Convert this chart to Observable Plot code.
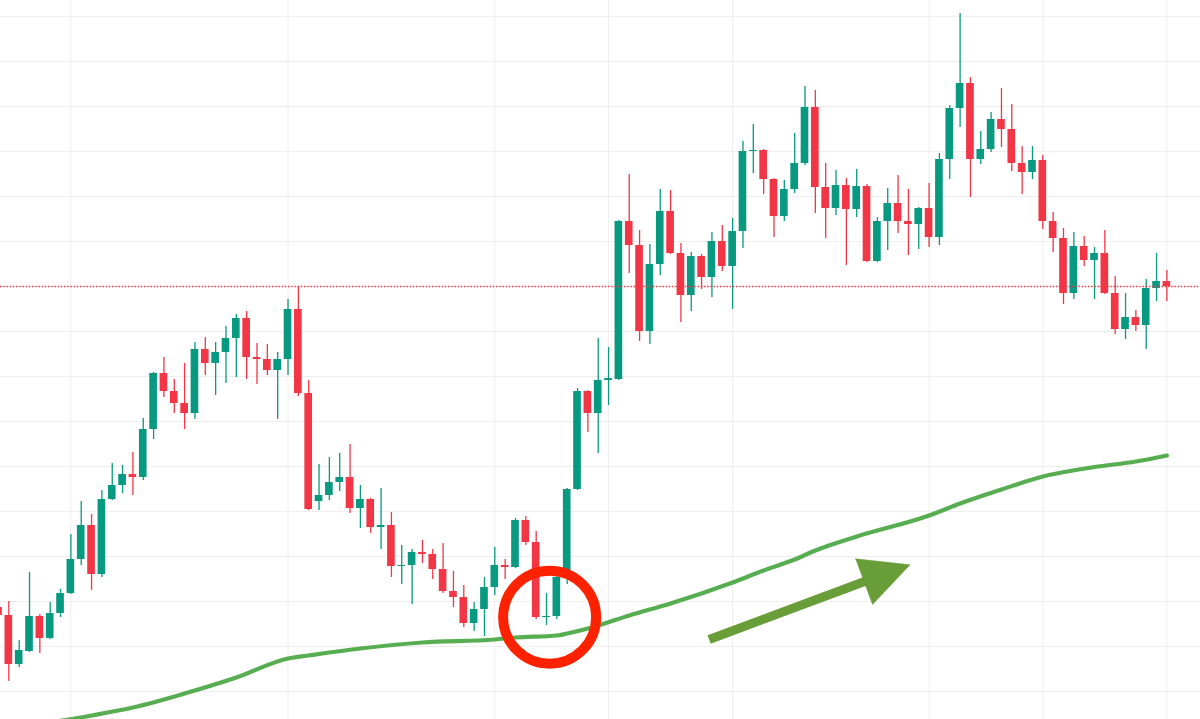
<!DOCTYPE html>
<html><head><meta charset="utf-8">
<script src="https://cdn.jsdelivr.net/npm/d3@7"></script>
<script src="https://cdn.jsdelivr.net/npm/@observablehq/plot@0.6"></script>
<style>html,body{margin:0;padding:0;background:#fff;overflow:hidden}svg{display:block}</style>
</head><body><div id="chart"></div>
<script>
// OHLC price series (candle index 0..113)
const opens = [12.9,12.1,7.2,8.5,12.0,9.8,12.3,14.3,17.7,21.1,
16.2,23.7,25.1,26.2,25.9,30.7,36.3,34.5,33.3,32.3,
38.7,37.3,38.4,39.8,41.8,37.9,37.7,36.6,37.7,42.7,
34.3,23.5,24.1,25.4,25.9,22.8,23.7,20.9,21.1,17.0,
17.1,18.4,18.2,16.7,14.5,13.9,11.3,12.7,14.9,17.1,
16.9,21.6,19.4,11.9,12.0,15.9,24.7,34.5,32.3,35.6,
35.7,51.5,49.1,40.5,47.2,52.5,48.3,44.1,48.0,45.9,
49.5,47.0,50.5,58.5,58.6,55.7,52.0,54.7,57.3,62.9,
54.9,52.8,55.1,52.7,55.0,47.5,51.5,53.3,51.5,51.2,
52.8,49.9,57.7,62.8,65.3,57.7,58.7,61.7,60.7,57.3,
56.4,57.6,51.5,49.8,44.3,49.0,47.6,48.3,44.3,40.7,
41.9,41.1,44.8,45.5];
const closes = [12.1,7.2,8.6,12.0,9.8,12.3,14.3,17.7,21.1,16.2,
23.7,25.1,26.2,25.9,30.7,36.3,34.5,33.3,32.3,38.7,
37.3,38.4,39.8,41.8,37.9,37.7,36.6,37.7,42.7,34.3,
22.7,24.1,25.4,25.9,22.8,23.7,20.9,21.1,17.0,17.1,
18.4,18.2,16.7,14.5,13.9,11.3,12.7,14.9,17.1,16.9,
21.6,19.4,11.9,12.0,15.9,24.7,34.5,32.3,35.6,35.8,
51.5,49.1,40.5,47.2,52.5,48.3,44.1,48.0,45.9,49.5,
47.0,50.5,58.5,58.6,55.7,52.0,54.7,57.3,62.9,54.9,
52.8,55.1,52.7,55.0,47.5,51.5,53.3,51.5,51.2,52.8,
49.9,57.7,62.8,65.3,57.7,58.7,61.7,60.7,57.3,56.4,
57.6,51.5,49.8,44.3,49.0,47.6,48.3,44.3,40.7,41.9,
41.1,44.8,45.5,45.0];
const highs = [13.6,13.5,9.6,16.4,12.2,13.4,14.7,20.2,23.5,22.2,
24.6,27.3,27.1,28.4,31.8,36.4,37.9,35.7,37.3,39.4,
39.9,39.4,41.0,42.2,42.5,39.3,39.2,38.4,43.7,44.9,
35.6,27.2,27.9,28.3,29.2,25.1,23.8,24.8,22.4,19.1,
18.7,19.6,18.7,19.3,16.5,15.1,13.4,15.9,18.9,17.7,
21.8,22.0,20.5,14.3,16.1,24.8,34.8,34.6,39.8,38.9,
51.6,56.2,50.6,49.2,54.7,54.6,49.3,48.4,48.2,50.4,
51.1,51.8,59.5,61.2,58.7,55.8,55.6,60.3,65.0,64.6,
57.3,56.6,55.8,56.7,55.2,51.9,54.8,56.1,54.7,52.9,
55.3,58.3,63.1,72.3,65.9,60.5,62.4,64.8,63.2,59.0,
59.0,58.1,52.4,50.8,50.4,50.0,48.9,50.6,46.0,44.3,
42.6,45.7,48.3,46.6];
const lows = [11.6,5.5,6.9,8.4,8.3,9.7,11.9,14.2,17.1,14.6,
15.9,23.6,24.3,24.1,25.6,29.7,33.9,32.3,30.7,31.7,
36.1,34.1,35.3,35.9,35.7,35.2,36.1,31.7,36.1,34.0,
22.6,22.6,23.6,24.5,22.3,20.8,20.3,18.7,15.9,15.2,
13.2,17.3,15.7,14.3,12.9,10.9,10.5,10.0,14.1,15.7,
16.8,19.1,11.7,11.1,11.7,15.2,24.6,30.4,28.3,33.1,
35.6,46.3,39.5,39.2,46.1,48.2,41.4,42.5,44.7,43.9,
46.5,42.7,48.8,56.3,54.2,49.9,51.5,54.3,57.1,52.3,
49.8,52.1,47.1,51.9,47.4,47.4,48.6,50.3,48.1,48.7,
48.9,49.1,55.7,60.9,53.9,57.2,58.4,58.9,56.5,54.2,
55.7,50.7,48.4,43.2,43.7,47.0,43.7,44.2,40.2,39.7,
40.5,38.7,43.5,43.5];

// moving average, read at sampled candle indices
const maIndex = [5,9,13,18,23,28,30,35,41,48,50,54,55,57,58,61,65,71,74,77,79,83,90,93,97,101,106,110,113];
const maValue = [1.4,2.1,2.9,4.3,5.9,7.8,8.1,8.8,9.4,9.7,9.9,10.1,10.3,10.8,11.1,12.1,13.3,15.4,16.6,17.7,18.6,20.0,22.1,23.3,24.7,26.0,26.95,27.5,28.1];

// grid: price levels and month-start candle indices
const priceTicks = [4.5,9,13.5,18,22.5,27,31.5,36,40.5,45,49.5,54,58.5,63,67.5,72];
const monthTicks = [7,28,48,59,71,90,101,113];

// annotations (data coordinates: candle index, price)
const circleAt = [{i: 53.3, p: 11.93}];
const arrowShaft = [{i: 68.73, p: 9.7}, {i: 83.9, p: 15.55}];
const arrowHead = [{i: 82.9, p: 17.77}, {i: 88.16, p: 17.17}, {i: 84.53, p: 13.2}, {i: 82.9, p: 17.77}];

const UP = "#089981", DOWN = "#f23645";
const candles = opens.map((o, i) => ({i, open: o, close: closes[i], high: highs[i], low: lows[i]}));
const ma = maIndex.map((i, k) => ({i, v: maValue[k]}));
const col = d => d.close >= d.open ? UP : DOWN;

const chart = Plot.plot({
  width: 1200, height: 719, margin: 0,
  style: {background: "#ffffff"},
  x: {type: "linear", domain: [0.1934, 116.25], axis: null},
  y: {type: "linear", domain: [1.7, 73.6], axis: null},
  marks: [
    Plot.ruleY(priceTicks, {stroke: "#eeeeee", strokeWidth: 1}),
    Plot.ruleX(monthTicks, {stroke: "#eeeeee", strokeWidth: 1}),
    Plot.ruleX(candles, {x: "i", y1: "low", y2: "high", stroke: col, strokeWidth: 1.3}),
    Plot.rect(candles, {x1: d => d.i - 0.37, x2: d => d.i + 0.37, y1: "open", y2: "close", fill: col}),
    Plot.ruleY([closes[closes.length - 1]], {stroke: DOWN, strokeWidth: 1.3, strokeDasharray: "1.4,1.8"}),
    Plot.line(ma, {x: "i", y: "v", stroke: "#57ae51", strokeWidth: 4.2, curve: "monotone-x", clip: true}),
    Plot.dot(circleAt, {x: "i", y: "p", r: 46.5, stroke: "#ff2200", strokeWidth: 10, fill: "none"}),
    Plot.line(arrowShaft, {x: "i", y: "p", stroke: "#689d38", strokeWidth: 9, strokeLinecap: "butt"}),
    Plot.line(arrowHead, {x: "i", y: "p", fill: "#689d38", stroke: "#689d38", strokeWidth: 0.5, curve: "linear-closed"})
  ]
});
document.getElementById("chart").appendChild(chart);
</script>
</body></html>
